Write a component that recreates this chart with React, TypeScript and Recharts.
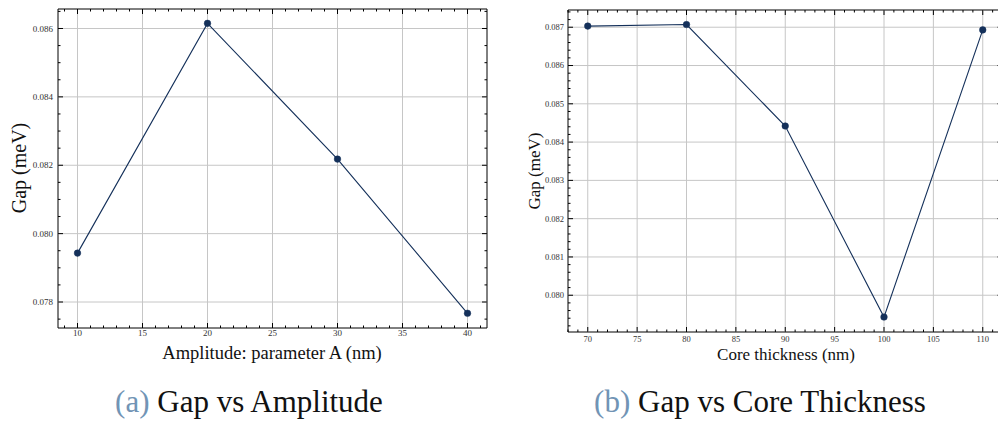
import { LineChart, Line, XAxis, YAxis, ReferenceLine, ReferenceArea } from "recharts";

// (a) gap against amplitude
const amplitude = [10, 20, 30, 40];
const gapAmplitude = [0.07943, 0.08615, 0.08218, 0.07767];
const ampXTicks = [10, 15, 20, 25, 30, 35, 40];
const ampYTicks = [0.078, 0.08, 0.082, 0.084, 0.086];

// (b) gap against core thickness
const thickness = [70, 80, 90, 100, 110];
const gapThickness = [0.08703, 0.08707, 0.08442, 0.07943, 0.08693];
const thickXTicks = [70, 75, 80, 85, 90, 95, 100, 105, 110];
const thickYTicks = [0.08, 0.081, 0.082, 0.083, 0.084, 0.085, 0.086, 0.087];

const NAVY = "#14305a";
const GRID = "#c6c6c6";
const FONT = "Liberation Serif, DejaVu Serif, Tinos, Times New Roman, serif";

const round = (v: number) => Math.round(v * 1e7) / 1e7;

// minor tick positions inside a domain
const minorTicks = (lo: number, hi: number, step: number) => {
  const out: number[] = [];
  for (let v = Math.ceil(lo / step - 1e-9) * step; v <= hi + 1e-12; v += step) out.push(round(v));
  return out;
};

const isMajor = (v: number, majors: number[]) => majors.some((m) => Math.abs(m - v) < 1e-9);

type Box = { left: number; top: number; right: number; bottom: number };

type PanelProps = {
  xs: number[];
  ys: number[];
  width: number;
  height: number;
  plot: Box;
  xDomain: [number, number];
  yDomain: [number, number];
  xMajor: number[];
  yMajor: number[];
  xStep: number;
  yStep: number;
  tickFont: number;
  xLabelDy: number;
  yLabelGap: number;
};

const Panel = (p: PanelProps) => {
  const data = p.xs.map((x, i) => ({ x, y: p.ys[i] }));
  const xTicks = minorTicks(p.xDomain[0], p.xDomain[1], p.xStep);
  const yTicks = minorTicks(p.yDomain[0], p.yDomain[1], p.yStep);
  const { plot } = p;
  const txt = { fontFamily: FONT, fontSize: p.tickFont };

  const XTick = (t: any) => {
    const v = t.payload.value;
    const major = isMajor(v, p.xMajor);
    const len = major ? 5 : 2.5;
    return (
      <g>
        <line x1={t.x} x2={t.x} y1={plot.bottom} y2={plot.bottom - len} stroke="#000" strokeWidth={1} />
        <line x1={t.x} x2={t.x} y1={plot.top} y2={plot.top + len} stroke="#000" strokeWidth={1} />
        {major && (
          <text x={t.x} y={plot.bottom + p.xLabelDy} textAnchor="middle" style={txt} fill="#333">
            {v}
          </text>
        )}
      </g>
    );
  };

  const YTick = (t: any) => {
    const v = t.payload.value;
    const major = isMajor(v, p.yMajor);
    const len = major ? 5 : 2.5;
    return (
      <g>
        <line x1={plot.left} x2={plot.left + len} y1={t.y} y2={t.y} stroke="#000" strokeWidth={1} />
        <line x1={plot.right} x2={plot.right - len} y1={t.y} y2={t.y} stroke="#000" strokeWidth={1} />
        {major && (
          <text x={plot.left - p.yLabelGap} y={t.y} dy="0.34em" textAnchor="end" style={txt} fill="#333">
            {v.toFixed(3)}
          </text>
        )}
      </g>
    );
  };

  return (
    <LineChart
      width={p.width}
      height={p.height}
      data={data}
      margin={{ top: plot.top, right: p.width - plot.right, left: 0, bottom: 0 }}
    >
      <XAxis
        dataKey="x"
        type="number"
        domain={p.xDomain}
        ticks={xTicks}
        interval={0}
        height={p.height - plot.bottom}
        axisLine={false}
        tickLine={false}
        tickSize={0}
        tick={XTick}
      />
      <YAxis
        type="number"
        domain={p.yDomain}
        ticks={yTicks}
        interval={0}
        width={plot.left}
        axisLine={false}
        tickLine={false}
        tickSize={0}
        tick={YTick}
      />
      {p.xMajor.map((v) => (
        <ReferenceLine key={"gx" + v} x={v} stroke={GRID} strokeWidth={1} />
      ))}
      {p.yMajor.map((v) => (
        <ReferenceLine key={"gy" + v} y={v} stroke={GRID} strokeWidth={1} />
      ))}
      <ReferenceArea
        x1={p.xDomain[0]}
        x2={p.xDomain[1]}
        y1={p.yDomain[0]}
        y2={p.yDomain[1]}
        fill="none"
        stroke="#000"
        strokeWidth={1}
      />
      <Line
        dataKey="y"
        stroke={NAVY}
        strokeWidth={1.1}
        dot={{ r: 3.3, fill: NAVY, stroke: NAVY, strokeWidth: 0.5 }}
        isAnimationActive={false}
      />
    </LineChart>
  );
};

const CAPTION_BLUE = "#7194b5";

const App = () => {
  return (
    <div style={{ position: "relative", width: 998, height: 423, overflow: "hidden", background: "#fff" }}>
      <style>{"body{margin:0;overflow:hidden}"}</style>
      <div style={{ position: "absolute", left: 0, top: 0 }}>
        <Panel
          xs={amplitude}
          ys={gapAmplitude}
          width={500}
          height={370}
          plot={{ left: 58, top: 9, right: 487, bottom: 328 }}
          xDomain={[8.5, 41.5]}
          yDomain={[0.07724, 0.08657]}
          xMajor={ampXTicks}
          yMajor={ampYTicks}
          xStep={1}
          yStep={0.0005}
          tickFont={9}
          xLabelDy={8}
          yLabelGap={5}
        />
      </div>
      <div style={{ position: "absolute", left: 500, top: 0 }}>
        <Panel
          xs={thickness}
          ys={gapThickness}
          width={510}
          height={370}
          plot={{ left: 68, top: 10, right: 502.5, bottom: 332 }}
          xDomain={[68, 112]}
          yDomain={[0.07904, 0.08745]}
          xMajor={thickXTicks}
          yMajor={thickYTicks}
          xStep={1}
          yStep={0.0002}
          tickFont={8.5}
          xLabelDy={9.5}
          yLabelGap={4}
        />
      </div>
      <svg width={998} height={423} style={{ position: "absolute", left: 0, top: 0, pointerEvents: "none" }}>
        <g style={{ fontFamily: FONT }} fill="#111">
          <text x={272} y={359} textAnchor="middle" fontSize={18.5}>
            Amplitude: parameter A (nm)
          </text>
          <text transform="translate(26,168) rotate(-90)" textAnchor="middle" fontSize={20}>
            Gap (meV)
          </text>
          <text x={786} y={360} textAnchor="middle" fontSize={17}>
            Core thickness (nm)
          </text>
          <text transform="translate(540,171) rotate(-90)" textAnchor="middle" fontSize={17}>
            Gap (meV)
          </text>
          <text x={249} y={412} textAnchor="middle" fontSize={31}>
            <tspan fill={CAPTION_BLUE}>(a)</tspan> Gap vs Amplitude
          </text>
          <text x={760} y={412} textAnchor="middle" fontSize={31}>
            <tspan fill={CAPTION_BLUE}>(b)</tspan> Gap vs Core Thickness
          </text>
        </g>
      </svg>
    </div>
  );
};

export default App;
